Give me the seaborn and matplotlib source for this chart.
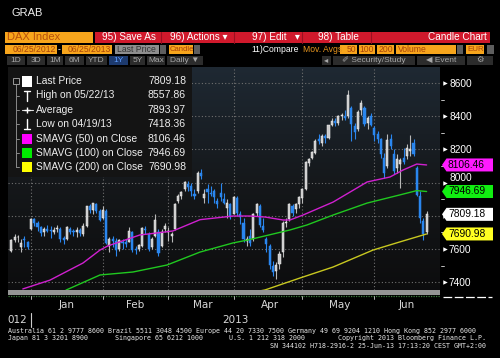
import numpy as np
import pandas as pd
import matplotlib
matplotlib.use("Agg")
import matplotlib.pyplot as plt
from matplotlib.patches import Rectangle, Polygon
import seaborn as sns

sns.set_theme(style="dark")
plt.rcParams['font.family'] = ['Liberation Sans', 'DejaVu Sans']

# ---------------- data (DAX daily candles, Dec 18 2012 .. Jun 25 2013) ----------------
opens = [
    7590, 7655, 7670, 7610, 7660, 7640,
    7720, 7780, 7760, 7730, 7700, 7720, 7710, 7700, 7720, 7720, 7665, 7660, 7720, 7705, 7700, 7715, 7690, 7740, 7860, 7835, 7870, 7830,
    7790, 7830, 7620, 7660, 7650, 7600, 7640, 7640, 7640, 7700, 7600, 7600, 7620, 7720, 7690, 7610, 7680, 7700, 7620, 7720,
    7700, 7680, 7720, 7890, 7920, 7960, 7990, 7980, 7930, 7950, 8060, 7910, 7960, 7940, 7950, 7890, 7940, 7900, 7850, 7870,
    7810, 7910, 7810, 7760, 7650, 7680, 7660, 7820, 7860, 7740, 7660, 7620, 7500, 7470, 7510, 7580, 7760, 7780, 7860, 7840, 7870,
    7910, 7960, 8120, 8150, 8180, 8260, 8240, 8280, 8270, 8350, 8370, 8360, 8400, 8400, 8400, 8450, 8340, 8320, 8440, 8450, 8360, 8400,
    8330, 8290, 8260, 8150, 8100, 8260, 8170, 8090, 8110, 8150, 8160, 8190, 8240, 8090, 7920, 7770, 7700]
highs = [
    7660, 7690, 7685, 7660, 7680, 7650,
    7790, 7790, 7770, 7740, 7730, 7745, 7740, 7730, 7745, 7730, 7680, 7740, 7735, 7720, 7730, 7725, 7760, 7860, 7870, 7880, 7880, 7840,
    7860, 7840, 7670, 7680, 7665, 7660, 7660, 7660, 7730, 7710, 7620, 7630, 7730, 7740, 7700, 7670, 7810, 7720, 7720, 7760,
    7730, 7700, 7880, 7930, 7950, 8010, 8010, 8000, 7960, 8070, 8080, 7960, 7990, 7980, 7960, 7910, 8000, 7940, 7900, 7880,
    7920, 7920, 7830, 7790, 7680, 7720, 7820, 7880, 7870, 7790, 7670, 7630, 7530, 7520, 7590, 7770, 7790, 7880, 7870, 7880, 7920,
    7970, 8130, 8150, 8190, 8260, 8290, 8290, 8290, 8350, 8390, 8390, 8410, 8420, 8440, 8557.86, 8460, 8360, 8440, 8500, 8460, 8400, 8420,
    8340, 8310, 8270, 8180, 8290, 8290, 8200, 8170, 8150, 8210, 8230, 8285, 8260, 8100, 7950, 7790, 7830]
lows = [
    7585, 7640, 7645, 7585, 7610, 7600,
    7715, 7740, 7710, 7680, 7680, 7700, 7665, 7690, 7705, 7640, 7630, 7655, 7690, 7680, 7670, 7680, 7680, 7735, 7820, 7810, 7820, 7770,
    7780, 7630, 7580, 7610, 7560, 7590, 7600, 7610, 7640, 7580, 7570, 7590, 7610, 7690, 7590, 7600, 7670, 7560, 7610, 7700,
    7650, 7640, 7715, 7880, 7900, 7950, 7950, 7920, 7900, 7940, 8020, 7880, 7880, 7920, 7880, 7850, 7890, 7870, 7790, 7780,
    7810, 7800, 7750, 7640, 7620, 7620, 7650, 7800, 7730, 7700, 7580, 7480, 7440, 7418.36, 7480, 7550, 7730, 7770, 7800, 7820, 7850,
    7880, 7955, 8100, 8140, 8170, 8230, 8220, 8240, 8260, 8340, 8340, 8350, 8380, 8380, 8390, 8250, 8260, 8310, 8410, 8340, 8320, 8340,
    8250, 8240, 8150, 8030, 8090, 8200, 8050, 8060, 7970, 8110, 8140, 8160, 8160, 7920, 7760, 7655, 7690]
closes = [
    7653, 7674, 7672, 7636, 7655, 7612,
    7779, 7756, 7732, 7695, 7720, 7707, 7708, 7715, 7729, 7662, 7655, 7730, 7702, 7702, 7712, 7697, 7740, 7858, 7834, 7876, 7832, 7776,
    7833, 7638, 7663, 7651, 7592, 7652, 7634, 7630, 7711, 7594, 7593, 7624, 7728, 7714, 7601, 7661, 7773, 7577, 7705, 7741,
    7708, 7691, 7871, 7919, 7944, 8004, 7976, 7948, 7918, 8058, 8043, 7930, 7944, 7932, 7913, 7870, 7912, 7879, 7879, 7795,
    7911, 7817, 7795, 7658, 7663, 7637, 7810, 7871, 7744, 7712, 7629, 7503, 7459, 7502, 7572, 7757, 7765, 7874, 7815, 7873, 7913,
    7963, 8122, 8143, 8182, 8249, 8249, 8278, 8269, 8345, 8372, 8361, 8399, 8405, 8388, 8530, 8352, 8306, 8425, 8480, 8352, 8388, 8349,
    8285, 8263, 8170, 8057, 8254, 8221, 8069, 8144, 8138, 8127, 8207, 8204, 8173, 7928, 7789, 7692, 7809.18]

# moving averages (trading-day index, value)
sma50_idx = [3.5, 11.8, 21.9, 27.1, 29.5, 39.3, 44.5, 49.4, 57.7, 67.8, 73, 77.6, 83.1, 85.2, 89.2, 98.4, 108.8, 115.8, 119.8, 124, 127]
sma50_val = [7360, 7413, 7516, 7594, 7619, 7685, 7697, 7709, 7777, 7799, 7799, 7793, 7775, 7775, 7805, 7883, 8004, 8034, 8076, 8112, 8106.46]
sma100_idx = [16.7, 27.1, 37.2, 47.6, 57.7, 67.8, 72.4, 85.2, 90.4, 98.4, 108.8, 118.8, 124, 127]
sma100_val = [7353, 7444, 7462, 7504, 7582, 7637, 7655, 7715, 7745, 7805, 7877, 7926, 7952, 7946.69]
sma200_idx = [76, 77.6, 88.3, 98.4, 110.6, 118.8, 127]
sma200_val = [7348, 7354, 7426, 7492, 7594, 7643, 7690.98]

month_labels = ["Jan", "Feb", "Mar", "Apr", "May", "Jun"]
month_start_idx = [6, 28, 48, 68, 89, 111]
month_center_idx = [17, 38, 58.5, 79, 100.5, 121]
price_ticks = [7400, 7600, 7800, 8000, 8200, 8400, 8600]
price_tick_labels = ["7400", "7600", "", "8000", "8200", "8400", "8600"]
price_minor = [7500, 7700, 7900, 8100, 8300, 8500]

legend_labels = ["Last Price", "High on 05/22/13", "Average", "Low on 04/19/13",
                 "SMAVG (50) on Close", "SMAVG (100) on Close", "SMAVG (200) on Close"]
legend_values = ["7809.18", "8557.86", "7893.97", "7418.36", "8106.46", "7946.69", "7690.98"]
tag_values = [8106.46, 7946.69, 7809.18, 7690.98]
tag_colors = ["#ff1aff", "#11ee11", "#ffffff", "#ffff22"]

# ---------------- figure ----------------
W, H = 500, 358
fig = plt.figure(figsize=(W / 100, H / 100), dpi=100, facecolor="black")
PL, PR, PT, PB = 8, 440, 67, 290
ax = fig.add_axes([PL / W, 1 - PB / H, (PR - PL) / W, (PB - PT) / H])
XL = (-1.03, 131.1)
YL = (7353.6, 8696.3)

# background gradient
t = np.linspace(0, 1, 300)[:, None]
c_top = np.array([0.12, 0.16, 0.20])
c_mid = np.array([0.08, 0.09, 0.10])
c_bot = np.array([0.05, 0.05, 0.055])
img = np.where(t < 0.55, c_top * (1 - t / 0.55) + c_mid * (t / 0.55),
               c_mid * (1 - (t - 0.55) / 0.45) + c_bot * ((t - 0.55) / 0.45))
ax.imshow(img[:, None, :], extent=[XL[0], XL[1], YL[0], YL[1]], aspect="auto",
          origin="upper", zorder=0)
ax.set_xlim(*XL)
ax.set_ylim(*YL)
for s in ax.spines.values():
    s.set_visible(False)

# grid
ax.set_yticks(price_ticks)
ax.set_yticklabels(price_tick_labels)
ax.set_xticks(month_start_idx)
ax.grid(True, which="major", color="#707070", ls=(0, (1, 2)), lw=0.8, zorder=1)
ax.tick_params(axis="x", which="major", length=0, labelbottom=False)
ax.set_xticks(month_center_idx, minor=True)
ax.set_xticklabels(month_labels, minor=True)
ax.tick_params(axis="x", which="minor", length=0, labelbottom=True, pad=7,
               labelsize=7.5, labelcolor="#d8d8d8")
ax.yaxis.tick_right()
ax.tick_params(axis="y", length=0, labelright=True, labelleft=False, pad=6.5,
               labelsize=7.3, labelcolor="white")
for lbl in ax.get_xticklabels(minor=True):
    lbl.set_fontfamily(["DejaVu Sans"])
for lbl in ax.get_yticklabels():
    if lbl.get_text() == "8000":
        lbl.set_va("bottom")

# candles
x = np.arange(len(closes))
o = np.array(opens, float); c = np.array(closes, float)
hi = np.array(highs, float); lo = np.array(lows, float)
up = c >= o
body_bot = np.minimum(o, c)
body_h = np.maximum(np.abs(c - o), 5)
body_col = np.where(up, "#c9c9c9", "#2a86ee")
edge_col = np.where(up, "#f2f2f2", "#2a86ee")
wick_col = np.where(up, "#b8b8b8", "#2a86ee")
ax.vlines(x, lo, hi, colors=wick_col, lw=0.8, zorder=3)
ax.bar(x, body_h, bottom=body_bot, width=0.64, color=body_col,
       edgecolor=edge_col, linewidth=0.35, zorder=4)

# moving averages
sns.lineplot(x=sma50_idx, y=sma50_val, ax=ax, color="#d020d0", lw=1.0, zorder=5)
sns.lineplot(x=sma100_idx, y=sma100_val, ax=ax, color="#20c820", lw=1.0, zorder=5)
sns.lineplot(x=sma200_idx, y=sma200_val, ax=ax, color="#c8c820", lw=1.0, zorder=5)
ax.set_xlabel(""); ax.set_ylabel("")

# ---------------- overlay in pixel coordinates ----------------
ov = fig.add_axes([0, 0, 1, 1], zorder=5)
ov.set_xlim(0, W); ov.set_ylim(H, 0); ov.axis("off")


def px_y(v):
    return H - ax.transData.transform((0, v))[1]


def px_x(i):
    return ax.transData.transform((i, YL[0]))[0]


def box(x0, y0, x1, y1, color, **kw):
    ov.add_patch(Rectangle((x0, y0), x1 - x0, y1 - y0, facecolor=color,
                           edgecolor="none", **kw))


def txt(xx, yy, s, size, color, ha="left", family=None, **kw):
    kw2 = dict(fontsize=size, color=color, ha=ha, va="center")
    if family:
        kw2["family"] = family
    kw2.update(kw)
    ov.text(xx, yy, s, **kw2)


# right axis markers
for v in price_ticks:
    ov.plot([444.5], [px_y(v)], marker=">", ms=3.2, color="white", mec="none")
for v in price_minor:
    ov.plot([441, 443.5], [px_y(v)] * 2, color="#dddddd", lw=0.6)

# value tags
for v, col in zip(tag_values, tag_colors):
    yc = px_y(v)
    ov.add_patch(Polygon([(442, yc), (446.5, yc - 6.5), (493, yc - 6.5),
                          (493, yc + 6.5), (446.5, yc + 6.5)], closed=True,
                         facecolor=col, edgecolor="none", zorder=6))
    txt(448, yc, f"{v:.2f}", 7.4, "black", zorder=7)

# legend panel
box(8, 67, 192, 177, "#141414", zorder=2)
rows_y = [81, 95.5, 110, 124.3, 138.6, 152.8, 167]
ov.plot([15.5, 15.5], [84, 167], color="#8a8a8a", lw=0.7, zorder=3)
for ry in rows_y[1:]:
    ov.plot([15.5, 19], [ry, ry], color="#8a8a8a", lw=0.7, zorder=3)
ov.add_patch(Rectangle((12.5, 77.5), 6, 6, facecolor="none", edgecolor="#9a9a9a", lw=0.7, zorder=3))
box(22, 76, 32, 86.5, "white", zorder=3)
ov.plot([24, 30], [91, 91], color="white", lw=1.0, zorder=3)
ov.plot([27, 27], [91, 101], color="white", lw=1.0, zorder=3)
ov.plot([21.5, 32.5], [110, 110], color="#dddddd", lw=0.8, zorder=3)
ov.plot([27], [110], marker="+", ms=4, color="white", mew=1, zorder=3)
ov.plot([27, 27], [119, 129], color="white", lw=1.0, zorder=3)
ov.plot([24, 30], [129, 129], color="white", lw=1.0, zorder=3)
for ry, col in zip(rows_y[4:], ["#ff00ff", "#00ee00", "#ffff00"]):
    box(22, ry - 5, 31.5, ry + 5, col, zorder=3)
for ry, lab, val in zip(rows_y, legend_labels, legend_values):
    txt(36, ry, lab, 7.4, "#eeeeee", zorder=4)
    txt(186, ry, val, 7.6, "#eeeeee", ha="right", zorder=4)

# bottom scroll bar, month ticks, year labels
box(8, 290, 440, 295, "#959595")
ov.plot([8, 440], [296.4, 296.4], color="#3c7d3c", ls=(0, (1, 1)), lw=0.9)
ov.plot([443, 492], [296.5, 296.5], color="white", ls=(0, (7, 2)), lw=0.9)
for i in month_start_idx:
    ov.plot([px_x(i)] * 2, [295.5, 299], color="#cccccc", lw=0.6)
ov.plot([px_x(month_start_idx[0])] * 2, [313, 327], color="#cccccc", lw=0.8)
txt(7, 320, "012", 7.5, "#d8d8d8", family=["DejaVu Sans"])
txt((px_x(month_start_idx[0]) + PR) / 2, 320, "2013", 7.5, "#d8d8d8", ha="center",
    family=["DejaVu Sans"])

# footer
mono = ["DejaVu Sans Mono"]
txt(8, 330.5, "Australia 61 2 9777 8600 Brazil 5511 3048 4500 Europe 44 20 7330 7500 "
    "Germany 49 69 9204 1210 Hong Kong 852 2977 6000", 4.8, "#e8e8e8", family=mono)
txt(8, 338, "Japan 81 3 3201 8900", 4.8, "#e8e8e8", family=mono)
txt(115, 338, "Singapore 65 6212 1000", 4.8, "#e8e8e8", family=mono)
txt(229, 338, "U.S. 1 212 318 2000", 4.8, "#e8e8e8", family=mono)
txt(486, 338, "Copyright 2013 Bloomberg Finance L.P.", 4.8, "#e8e8e8", ha="right", family=mono)
txt(486, 345.5, "SN 344102 H718-2916-2 25-Jun-13 17:13:20 CEST GMT+2:00", 4.8, "#e8e8e8",
    ha="right", family=mono)

# ---------------- header / toolbar ----------------
txt(12, 12.5, "GRAB", 8, "#eeeeee")
ORANGE = "#f7a51c"; OTXT = "#a8420a"; RED = "#d0192c"; GREY = "#8e8e8e"
# row 1
box(5, 31.5, 93, 43, ORANGE)
txt(7, 37.3, "DAX Index", 8, "#b8500c")
box(95, 31.5, 490, 43, RED)
for sx in [161, 234, 302, 371]:
    ov.plot([sx, sx], [31.5, 43], color="#9a1020", lw=0.8)
txt(129, 37.3, "95) Save As", 7.2, "white", ha="center")
txt(199, 37.3, "96) Actions \u25be", 7.2, "white", ha="center")
txt(276, 37.3, "97) Edit   \u25be", 7.2, "white", ha="center")
txt(338, 37.3, "98) Table", 7.2, "white", ha="center")
txt(487, 37.3, "Candle Chart", 7.2, "white", ha="right")
# row 2
r2a, r2b, r2c = 44.5, 53.5, 49.2
box(5, r2a, 57, r2b, ORANGE); txt(56, r2c, "06/25/2012", 6.2, OTXT, ha="right")
txt(59.5, r2c, "-", 6.2, "white", ha="center")
box(62, r2a, 112, r2b, ORANGE); txt(111, r2c, "06/25/2013", 6.2, OTXT, ha="right")
box(115, r2a, 159, r2b, GREY); txt(117, r2c, "Last Price", 6.2, "#333333")
box(160, r2a, 166, r2b, "#5e5e5e")
box(169, r2a, 193, r2b, ORANGE); txt(170, r2c, "Candle", 5.5, OTXT)
box(194, r2a, 200, r2b, "#5e5e5e")
txt(251, r2c, "11)Compare", 6.2, "white")
txt(303, r2c, "Mov. Avgs", 6.2, "#e8961e")
box(340, r2a, 357, r2b, ORANGE); txt(356, r2c, "50", 6.2, OTXT, ha="right")
box(359, r2a, 375, r2b, ORANGE); txt(374, r2c, "100", 6.2, OTXT, ha="right")
box(377, r2a, 394, r2b, ORANGE); txt(393, r2c, "200", 6.2, OTXT, ha="right")
box(396, r2a, 456, r2b, ORANGE); txt(398, r2c, "Volume", 6.2, OTXT)
box(457, r2a, 463, r2b, "#5e5e5e")
box(466, r2a, 484, r2b, ORANGE); txt(467, r2c, "EUR", 5.8, OTXT)
box(487, r2a, 494, r2b, "#5e5e5e")
# row 3
r3a, r3b, r3c = 55.5, 64.5, 60.2
tabs = [(7, 25, "1D"), (27, 45, "3D"), (47, 63, "1M"), (65, 84, "6M"), (86, 107, "YTD"),
        (109, 128, "1Y"), (130, 145, "5Y"), (147, 165, "Max"), (167, 203, "Daily \u25bc")]
for a, b, s in tabs:
    sel = s == "1Y"
    box(a, r3a, b, r3b, "#1d3a6e" if sel else "#2c2c2c")
    txt((a + b) / 2, r3c, s, 6.0, "#5d9cff" if sel else "#a8a8a8", ha="center")
for a, b, s in [(322, 331, "\u25c2"), (333, 415, "\u2710 Security/Study"),
                (417, 465, "\u25c0 Event"), (467, 493, "\u2699")]:
    box(a, r3a, b, r3b, "#2c2c2c")
    txt((a + b) / 2, r3c, s, 6.0, "#a8a8a8", ha="center", family=["Liberation Sans", "DejaVu Sans"])

fig.savefig("out.png", dpi=100, facecolor="black")
